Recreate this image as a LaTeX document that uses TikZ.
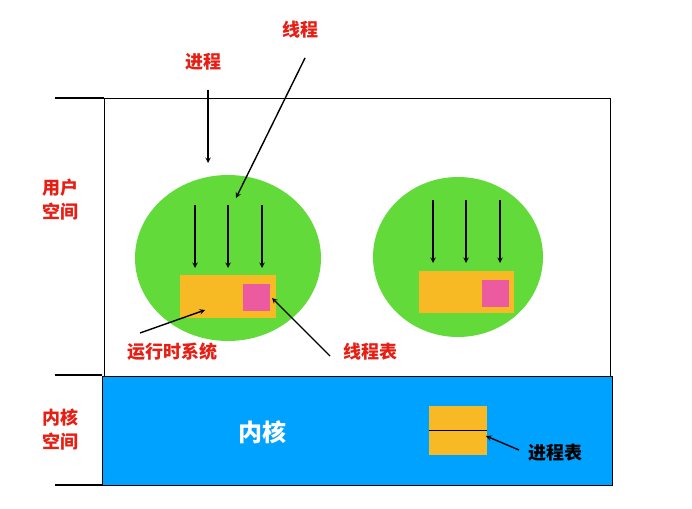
\documentclass[tikz,border=0pt]{standalone}
\usepackage{fontspec}
\setmainfont{Noto Sans CJK SC}
\usetikzlibrary{arrows}
\definecolor{leaf}{RGB}{98,218,58}
\definecolor{amber}{RGB}{248,186,36}
\definecolor{rose}{RGB}{236,90,160}
\definecolor{sky}{RGB}{0,162,255}
\definecolor{label}{RGB}{230,30,20}
\tikzstyle{lbl} = [text=label, font=\fontsize{18}{24}\selectfont\bfseries, align=center, inner sep=1pt]
\tikzstyle{arrow} = [line width=1.4pt,->,>=stealth]
\tikzstyle{rts} = [fill=amber, draw=none, inner sep=0pt]
\tikzstyle{tab} = [fill=rose, draw=none, inner sep=0pt, minimum size=27pt]
\begin{document}
\begin{tikzpicture}[x=1pt, y=-1pt]
        \useasboundingbox (0,0) rectangle (692,508);
        % spaces
        \draw [fill=white] (104,98) rectangle (610,376);
        \draw [fill=sky, line width=1pt] (102,376) rectangle (612,485);
        \draw [line width=1.2pt] (55,98) -- (104,98);
        \draw [line width=1.2pt] (55,375) -- (102,375);
        \draw [line width=1.2pt] (55,485) -- (102,485);
        \node [lbl] (user) at (60,200) {用户\\空间};
        \node [lbl] (kern) at (60,430) {内核\\空间};
        \node [text=white, font=\fontsize{24}{28}\selectfont\bfseries] (kname) at (262,432) {内核};

        % processes
        \fill [leaf] (228,258) ellipse (93 and 83);
        \fill [leaf] (458,257) ellipse (85 and 80);
        \node [rts, minimum width=96pt, minimum height=43pt] (rt1) at (228,296.5) {};
        \node [tab] (tb1) at (256,297.5) {};
        \node [rts, minimum width=95pt, minimum height=42pt] (rt2) at (466.5,292) {};
        \node [tab] (tb2) at (495.5,293) {};
        \foreach \x in {195,228,262} \draw [arrow] (\x,205) -- (\x,268);
        \foreach \x in {433,466,500} \draw [arrow] (\x,200) -- (\x,263);

        % kernel table
        \node [rts, minimum width=58pt, minimum height=49pt] (ptab) at (458,430.5) {};
        \draw [line width=1.4pt] (ptab.west) -- (ptab.east);

        % labels
        \node [lbl] (proc) at (203,62) {进程};
        \coordinate (procend) at (208,163);
        \draw [arrow] (208,90) -- (procend);
        \node [lbl] (thr) at (300,30) {线程};
        \coordinate (thrend) at (236,198);
        \draw [arrow] (305,58) -- (thrend);
        \node [lbl] (rtsys) at (172,352) {运行时系统};
        \draw [arrow] (140,333) -- (205,310);
        \node [lbl] (ttab) at (370,352) {线程表};
        \draw [arrow] (330,356) -- (272,298);
        \node [font=\fontsize{18}{24}\selectfont\bfseries] (ptabl) at (555,453) {进程表};
        \draw [arrow] (519,450) -- (486,436);
\end{tikzpicture}
\end{document}
